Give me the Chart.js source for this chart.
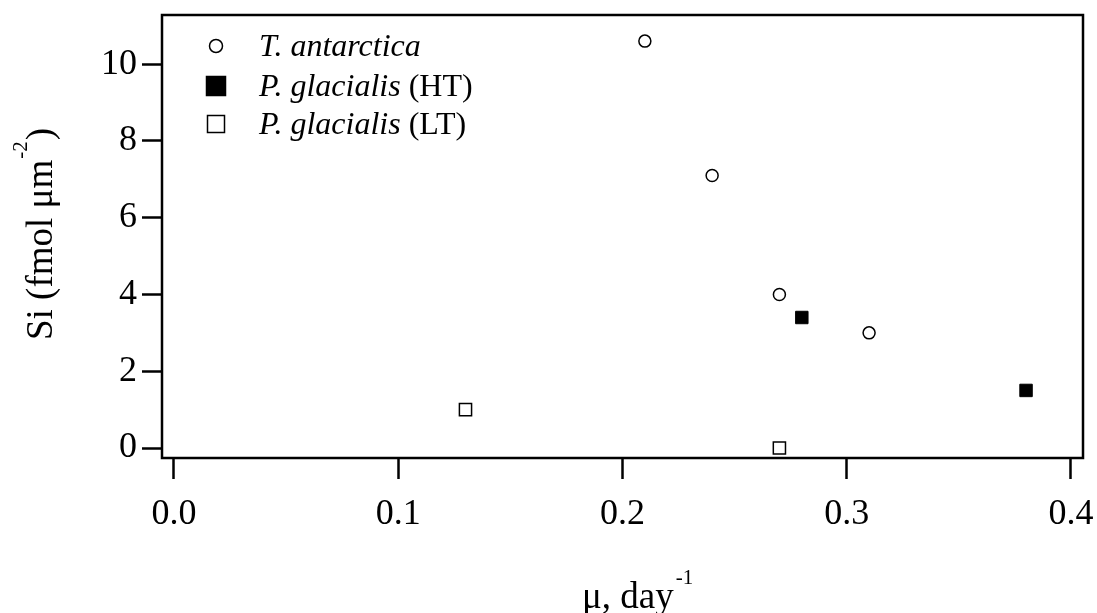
<!DOCTYPE html>
<html>
<head>
<meta charset="utf-8">
<script src="https://cdn.jsdelivr.net/npm/chart.js@4.4.1/dist/chart.umd.min.js"></script>
<style>
  html, body { margin: 0; padding: 0; background: #fff; }
  #wrap { width: 1097px; height: 613px; position: relative; }
</style>
</head>
<body>
<div id="wrap"><canvas id="c" width="1097" height="613"></canvas></div>
<script>
// ---- data ----
const tAntX = [0.21, 0.24, 0.27, 0.31];
const tAntY = [10.6, 7.1, 4.0, 3.0];
const pgHTX = [0.28, 0.38];
const pgHTY = [3.4, 1.5];
const pgLTX = [0.13, 0.27];
const pgLTY = [1.0, 0.0];

const xTickValues = [0.0, 0.1, 0.2, 0.3, 0.4];
const xTickLabels = ['0.0', '0.1', '0.2', '0.3', '0.4'];
const yTickValues = [0, 2, 4, 6, 8, 10];
const yTickLabels = ['0', '2', '4', '6', '8', '10'];

const legendItalic = ['T. antarctica', 'P. glacialis', 'P. glacialis'];
const legendPlain = ['', ' (HT)', ' (LT)'];

const yTitleMain = 'Si (fmol μm';
const yTitleSup = '-2';
const yTitleEnd = ')';
const xTitleMain = 'μ, day';
const xTitleSup = '-1';

const FONT = "'Liberation Serif', 'Times New Roman', serif";

const toPts = (xs, ys) => xs.map((x, i) => ({ x: x, y: ys[i] }));

const framePlugin = {
  id: 'frame',
  afterDatasetsDraw(chart) {
    const { ctx, chartArea: a } = chart;
    ctx.save();
    ctx.strokeStyle = '#000';
    ctx.lineWidth = 2.5;
    ctx.strokeRect(a.left, a.top, a.right - a.left, a.bottom - a.top);
    ctx.restore();
  }
};

const legendPlugin = {
  id: 'customLegend',
  afterDraw(chart) {
    const ctx = chart.ctx;
    const rows = [56, 96, 134];
    const symX = 216;
    const textX = 259;
    ctx.save();
    ctx.fillStyle = '#000';
    ctx.strokeStyle = '#000';
    chart.data.datasets.forEach((ds, i) => {
      const base = rows[i];
      const cy = base - 10;
      ctx.lineWidth = 1.5;
      if (ds.pointStyle === 'circle') {
        ctx.beginPath();
        ctx.arc(symX, cy, 6.5, 0, Math.PI * 2);
        ctx.fillStyle = ds.backgroundColor;
        ctx.fill();
        ctx.stroke();
      } else {
        const s = ds.backgroundColor === '#000' ? 19 : 17;
        ctx.fillStyle = ds.backgroundColor;
        ctx.fillRect(symX - s / 2, cy - s / 2, s, s);
        ctx.strokeRect(symX - s / 2, cy - s / 2, s, s);
      }
      ctx.fillStyle = '#000';
      ctx.textAlign = 'left';
      ctx.textBaseline = 'alphabetic';
      ctx.font = 'italic 32px ' + FONT;
      ctx.fillText(legendItalic[i], textX, base);
      const w = ctx.measureText(legendItalic[i]).width;
      ctx.font = '32px ' + FONT;
      ctx.fillText(legendPlain[i], textX + w, base);
    });
    ctx.restore();
  }
};

const titlePlugin = {
  id: 'axisTitles',
  afterDraw(chart) {
    const ctx = chart.ctx;
    ctx.save();
    ctx.fillStyle = '#000';
    ctx.textAlign = 'left';
    ctx.textBaseline = 'alphabetic';
    // y title (rotated)
    ctx.save();
    ctx.translate(52, 340);
    ctx.rotate(-Math.PI / 2);
    ctx.font = '37px ' + FONT;
    ctx.fillText(yTitleMain, 0, 0);
    let w = ctx.measureText(yTitleMain).width;
    ctx.font = '21px ' + FONT;
    ctx.fillText(yTitleSup, w + 1, -25);
    w += ctx.measureText(yTitleSup).width + 2;
    ctx.font = '37px ' + FONT;
    ctx.fillText(yTitleEnd, w, 0);
    ctx.restore();
    // x title
    ctx.font = '37px ' + FONT;
    ctx.fillText(xTitleMain, 582, 608);
    const wx = ctx.measureText(xTitleMain).width;
    ctx.font = '21px ' + FONT;
    ctx.fillText(xTitleSup, 582 + wx + 2, 584);
    ctx.restore();
  }
};

new Chart(document.getElementById('c'), {
  type: 'scatter',
  data: {
    datasets: [
      {
        label: 'T. antarctica',
        data: toPts(tAntX, tAntY),
        pointStyle: 'circle',
        pointRadius: 6,
        pointBorderWidth: 1.5,
        borderColor: '#000',
        backgroundColor: '#fff',
        pointBackgroundColor: '#fff',
        pointBorderColor: '#000'
      },
      {
        label: 'P. glacialis (HT)',
        data: toPts(pgHTX, pgHTY),
        pointStyle: 'rect',
        pointRadius: 8.8,
        pointBorderWidth: 1,
        borderColor: '#000',
        backgroundColor: '#000',
        pointBackgroundColor: '#000',
        pointBorderColor: '#000'
      },
      {
        label: 'P. glacialis (LT)',
        data: toPts(pgLTX, pgLTY),
        pointStyle: 'rect',
        pointRadius: 8.6,
        pointBorderWidth: 1.5,
        borderColor: '#000',
        backgroundColor: '#fff',
        pointBackgroundColor: '#fff',
        pointBorderColor: '#000'
      }
    ]
  },
  options: {
    responsive: false,
    animation: false,
    clip: false,
    layout: { padding: { left: 0, right: 14, top: 15, bottom: 0 } },
    plugins: {
      legend: { display: false },
      tooltip: { enabled: false }
    },
    scales: {
      x: {
        type: 'linear',
        min: -0.00535,
        max: 0.4054,
        afterBuildTicks(s) { s.ticks = xTickValues.map(v => ({ value: v })); },
        afterFit(s) { s.height = 155; s.paddingLeft = 0; s.paddingRight = 0; },
        ticks: {
          callback: (v, i) => xTickLabels[i],
          font: { family: FONT, size: 36 },
          color: '#000',
          padding: 14,
          maxRotation: 0,
          autoSkip: false
        },
        grid: {
          drawOnChartArea: false,
          drawTicks: true,
          tickLength: 21,
          tickWidth: 2.5,
          tickColor: '#000'
        },
        border: { display: false },
        title: { display: false }
      },
      y: {
        type: 'linear',
        min: -0.26,
        max: 11.28,
        afterBuildTicks(s) { s.ticks = yTickValues.map(v => ({ value: v })); },
        afterFit(s) { s.width = 162; s.paddingTop = 0; s.paddingBottom = 0; },
        ticks: {
          callback: (v, i) => yTickLabels[i],
          font: { family: FONT, size: 36 },
          color: '#000',
          padding: 5,
          autoSkip: false
        },
        grid: {
          drawOnChartArea: false,
          drawTicks: true,
          tickLength: 20,
          tickWidth: 2.5,
          tickColor: '#000'
        },
        border: { display: false },
        title: { display: false }
      }
    }
  },
  plugins: [framePlugin, legendPlugin, titlePlugin]
});
</script>
</body>
</html>
